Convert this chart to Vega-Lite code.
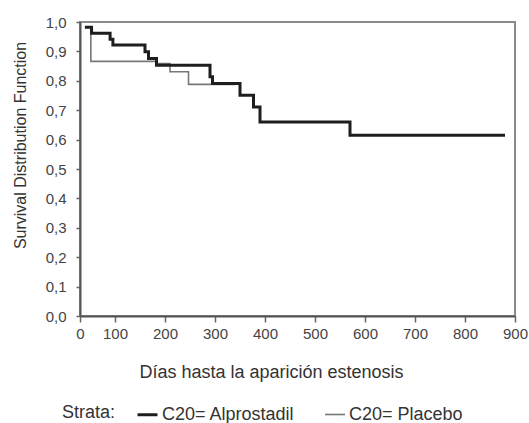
{
  "$schema": "https://vega.github.io/schema/vega-lite/v6.json",
  "width": 435,
  "height": 294,
  "autosize": {"type": "none"},
  "padding": {"left": 80, "top": 22, "right": 14, "bottom": 107},
  "background": "white",
  "config": {
    "view": {"stroke": "#8a8a8a", "strokeWidth": 2},
    "font": "Liberation Sans",
    "axis": {
      "grid": false,
      "domainColor": "#555",
      "domainWidth": 2,
      "tickColor": "#666",
      "tickWidth": 1.5,
      "labelFont": "Liberation Sans",
      "titleFont": "Liberation Sans",
      "labelColor": "#444",
      "titleColor": "#333",
      "labelFontSize": 15,
      "titleFontSize": 18,
      "titleFontWeight": "normal"
    },
    "legend": {
      "labelFont": "Liberation Sans",
      "titleFont": "Liberation Sans"
    }
  },
  "data": {
    "values": [
      {"strata": "C20= Placebo", "dias": 14, "s": 0.982},
      {"strata": "C20= Placebo", "dias": 31, "s": 0.866},
      {"strata": "C20= Placebo", "dias": 183, "s": 0.859},
      {"strata": "C20= Placebo", "dias": 210, "s": 0.831},
      {"strata": "C20= Placebo", "dias": 247, "s": 0.788},
      {"strata": "C20= Placebo", "dias": 340, "s": 0.788},
      {"strata": "C20= Alprostadil", "dias": 14, "s": 0.982},
      {"strata": "C20= Alprostadil", "dias": 33, "s": 0.962},
      {"strata": "C20= Alprostadil", "dias": 86, "s": 0.941},
      {"strata": "C20= Alprostadil", "dias": 94, "s": 0.922},
      {"strata": "C20= Alprostadil", "dias": 160, "s": 0.899},
      {"strata": "C20= Alprostadil", "dias": 167, "s": 0.876},
      {"strata": "C20= Alprostadil", "dias": 183, "s": 0.853},
      {"strata": "C20= Alprostadil", "dias": 290, "s": 0.814},
      {"strata": "C20= Alprostadil", "dias": 295, "s": 0.791},
      {"strata": "C20= Alprostadil", "dias": 350, "s": 0.751},
      {"strata": "C20= Alprostadil", "dias": 377, "s": 0.711},
      {"strata": "C20= Alprostadil", "dias": 390, "s": 0.66},
      {"strata": "C20= Alprostadil", "dias": 570, "s": 0.615},
      {"strata": "C20= Alprostadil", "dias": 880, "s": 0.615}
    ]
  },
  "encoding": {
    "x": {
      "field": "dias",
      "type": "quantitative",
      "scale": {"domain": [0, 100, 900], "range": [0, 35, 435]},
      "axis": {
        "title": "Días hasta la aparición estenosis",
        "values": [0, 100, 200, 300, 400, 500, 600, 700, 800, 900],
        "tickSize": 6,
        "labelPadding": 4,
        "labelFlush": false,
        "labelBound": false,
        "labelOverlap": false,
        "titleX": 191,
        "titleY": 56,
        "titleAlign": "center",
        "titleBaseline": "middle"
      }
    },
    "y": {
      "field": "s",
      "type": "quantitative",
      "scale": {"domain": [0, 1], "nice": false, "zero": false},
      "axis": {
        "title": "Survival Distribution Function",
        "values": [0, 0.1, 0.2, 0.3, 0.4, 0.5, 0.6, 0.7, 0.8, 0.9, 1],
        "labelExpr": "replace(format(datum.value, '.1f'), '.', ',')",
        "tickSize": 4,
        "labelPadding": 10,
        "labelFlush": false,
        "labelOverlap": false,
        "titleX": -60,
        "titleY": 123,
        "titleAlign": "center",
        "titleBaseline": "middle",
        "titleFontSize": 16
      }
    },
    "color": {
      "field": "strata",
      "type": "nominal",
      "scale": {"domain": ["C20= Alprostadil", "C20= Placebo"], "range": ["#1e1e1e", "#777777"]},
      "legend": {
        "title": "Strata:",
        "orient": "none",
        "legendX": -18,
        "legendY": 381,
        "direction": "horizontal",
        "titleOrient": "left",
        "titleFontSize": 18,
        "titleFontWeight": "normal",
        "titleColor": "#333",
        "titlePadding": 20,
        "labelFontSize": 18,
        "labelColor": "#333",
        "symbolType": "stroke",
        "symbolSize": 400,
        "symbolOffset": 0,
        "labelOffset": 3,
        "columnPadding": 26
      }
    },
    "strokeWidth": {
      "field": "strata",
      "type": "nominal",
      "scale": {"domain": ["C20= Alprostadil", "C20= Placebo"], "range": [3, 1.6]},
      "legend": {
        "title": "Strata:",
        "orient": "none",
        "legendX": -18,
        "legendY": 381,
        "direction": "horizontal",
        "titleOrient": "left"
      }
    }
  },
  "layer": [
    {
      "transform": [{"filter": "datum.strata == 'C20= Placebo'"}],
      "mark": {"type": "line", "interpolate": "step-after"}
    },
    {
      "transform": [{"filter": "datum.strata == 'C20= Alprostadil'"}],
      "mark": {"type": "line", "interpolate": "step-after"}
    }
  ]
}
